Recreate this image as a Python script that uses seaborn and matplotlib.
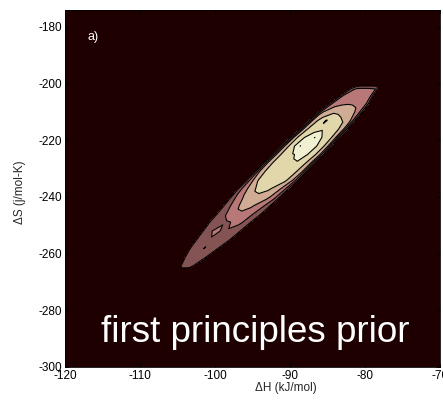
import numpy as np
import matplotlib
matplotlib.use("Agg")
import matplotlib.pyplot as plt
import seaborn as sns

# ---- data ----
# rows of constant dS (j/mol-K) along the ridge of the prior
dS_rows = [-267, -264, -261, -258, -255, -252, -249, -246, -243, -240, -237, -234,
           -231, -228, -225, -222, -219, -216, -213, -210, -207, -204.5, -202, -200]
# dH (kJ/mol) of the ridge centre in each row
ridge_dH = [-104.8, -103.6, -102.5, -101.4, -100.2, -99.1, -98.0, -96.8, -95.7, -94.6,
            -93.5, -92.3, -91.2, -90.1, -88.9, -87.8, -86.7, -85.5, -84.4, -83.3,
            -82.1, -81.2, -80.2, -79.5]
# half width (kJ/mol) of the band in each row
half_width = [0.3, 0.85, 1.4, 1.85, 2.2, 2.45, 2.7, 2.9, 3.05, 3.2, 3.3, 3.35,
              3.35, 3.35, 3.35, 3.3, 3.2, 3.1, 3.0, 2.85, 2.55, 2.15, 1.8, 1.6]
# relative position across the band
u_cols = [-1.15, -1.0, -0.85, -0.55, -0.25, 0.0, 0.25, 0.55, 0.85, 1.0, 1.15]
# density (in contour-level units)
density = [
    [0, 0, 0, 0, 0, 0, 0, 0, 0, 0, 0],
    [0, 1.05, 1.4, 1.5, 1.5, 1.5, 1.5, 1.5, 1.4, 1.05, 0],
    [0, 1.05, 1.5, 1.6, 1.7, 1.7, 1.7, 1.6, 1.5, 1.05, 0],
    [0, 1.05, 1.5, 1.6, 1.7, 2.03, 1.7, 1.6, 1.5, 1.05, 0],
    [0, 1.05, 1.5, 1.7, 1.85, 1.8, 1.7, 1.6, 1.5, 1.05, 0],
    [0, 1.05, 1.6, 1.95, 2.4, 1.8, 1.85, 1.75, 1.5, 1.05, 0],
    [0, 1.05, 1.6, 1.8, 1.85, 1.95, 2.4, 2.1, 1.6, 1.05, 0],
    [0, 1.05, 1.6, 2.05, 2.6, 2.8, 2.7, 2.2, 1.6, 1.05, 0],
    [0, 1.05, 1.7, 2.4, 3.3, 3.4, 3.1, 2.5, 1.8, 1.05, 0],
    [0, 1.05, 1.9, 2.9, 3.6, 3.8, 3.7, 3.2, 2.1, 1.05, 0],
    [0, 1.05, 2.2, 3.4, 4.2, 4.3, 4.1, 3.6, 2.4, 1.05, 0],
    [0, 1.05, 2.6, 4.1, 4.4, 4.5, 4.4, 4.1, 2.8, 1.05, 0],
    [0, 1.05, 3.0, 4.4, 4.6, 4.7, 4.6, 4.3, 3.0, 1.05, 0],
    [0, 1.05, 3.2, 4.5, 4.75, 4.85, 4.95, 4.5, 3.1, 1.05, 0],
    [0, 1.05, 3.3, 4.6, 4.9, 5.15, 5.2, 4.7, 3.2, 1.05, 0],
    [0, 1.05, 3.4, 4.7, 6.02, 5.4, 5.25, 4.8, 3.3, 1.05, 0],
    [0, 1.05, 3.4, 4.8, 5.3, 6.02, 5.05, 4.7, 3.3, 1.05, 0],
    [0, 1.05, 3.3, 4.6, 4.8, 4.8, 4.7, 4.4, 3.1, 1.05, 0],
    [0, 1.05, 3.2, 4.3, 5.1, 4.4, 4.2, 3.9, 2.9, 1.05, 0],
    [0, 1.05, 2.9, 3.5, 3.8, 3.85, 3.7, 3.3, 2.6, 1.05, 0],
    [0, 1.05, 2.3, 2.7, 2.85, 2.9, 2.85, 2.7, 2.4, 1.05, 0],
    [0, 1.05, 2.1, 2.5, 2.6, 2.6, 2.6, 2.5, 2.3, 1.05, 0],
    [0, 1.05, 1.6, 2.3, 2.4, 2.4, 2.4, 2.3, 2.2, 1.05, 0],
    [0, 0, 0, 0, 0, 0, 0, 0, 0, 0, 0],
]
contour_levels = [1, 2, 3, 4, 5, 6]
x_ticks = [-120, -110, -100, -90, -80, -70]
y_ticks = [-300, -280, -260, -240, -220, -200, -180]

# ---- style ----
sns.set_theme(style="ticks")
plt.rcParams['font.family'] = ['Liberation Sans', 'DejaVu Sans']
plt.rcParams['axes.unicode_minus'] = False

fig = plt.figure(figsize=(4.43, 4.01), dpi=100)
fig.patch.set_facecolor('white')
ax = fig.add_axes([0.1467, 0.0848, 0.8465, 0.8903])

cmap = plt.get_cmap('pink')
ax.set_facecolor(cmap(0.0))

X = np.array(ridge_dH)[:, None] + np.array(u_cols)[None, :] * np.array(half_width)[:, None]
Y = np.repeat(np.array(dS_rows, dtype=float)[:, None], len(u_cols), axis=1)
Z = np.array(density, dtype=float)

bounds = [-1] + contour_levels + [10]
fill_colors = [cmap(k / 6) for k in range(7)]
ax.contourf(X, Y, Z, levels=bounds, colors=fill_colors)
ax.contour(X, Y, Z, levels=contour_levels, colors='black', linewidths=0.8)

ax.set_xlim(-120, -70)
ax.set_ylim(-300, -174)
ax.set_xticks(x_ticks)
ax.set_yticks(y_ticks)
ax.tick_params(direction='in', top=True, right=True, length=3, width=0.6,
               labelsize=8.5, pad=2, colors='black')
for s in ax.spines.values():
    s.set_linewidth(0.6)
    s.set_color('black')

ax.set_xlabel('ΔH (kJ/mol)', fontsize=8.5)
ax.xaxis.set_label_coords(0.59, -0.042)
ax.set_ylabel('ΔS (j/mol-K)', fontsize=8.5)
ax.yaxis.set_label_coords(-0.105, 0.49)

ax.text(0.061, 0.924, 'a)', color='white', fontsize=9, transform=ax.transAxes,
        ha='left', va='center')
ax.text(0.096, 0.071, 'first principles prior', color='white', fontsize=26.5,
        transform=ax.transAxes, ha='left', va='baseline')

fig.savefig('out.png', dpi=100)
